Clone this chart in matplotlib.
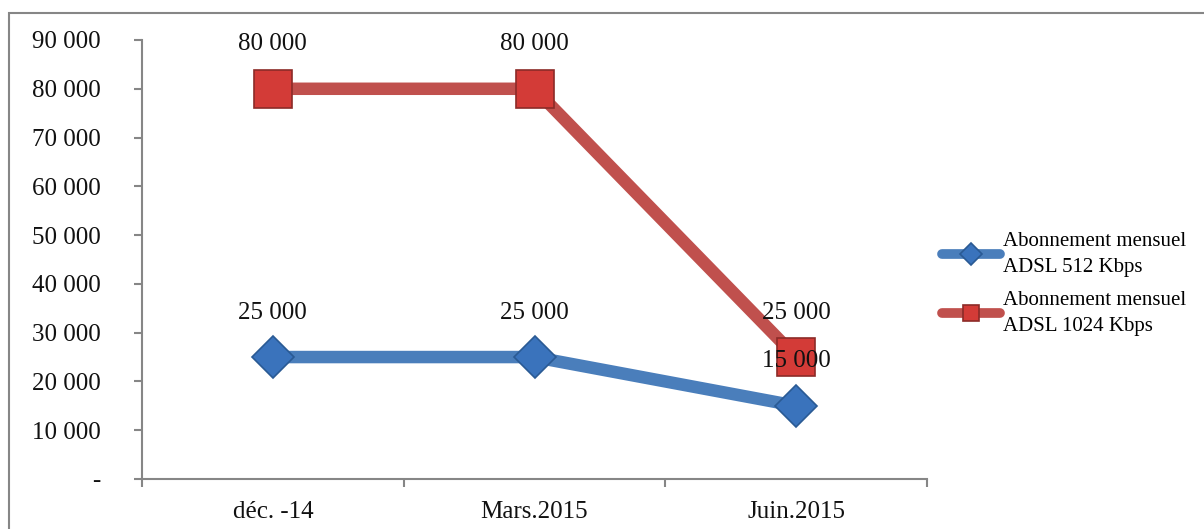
import matplotlib
matplotlib.use('Agg')
import matplotlib.pyplot as plt
from matplotlib.patches import Rectangle
from matplotlib.ticker import FuncFormatter, FixedLocator

plt.rcParams['font.family'] = ['Liberation Serif', 'DejaVu Serif']

categories = ['déc. -14', 'Mars.2015', 'Juin.2015']
adsl_512 = [25000, 25000, 15000]
adsl_1024 = [80000, 80000, 25000]
labels = ['Abonnement mensuel\nADSL 512 Kbps', 'Abonnement mensuel\nADSL 1024 Kbps']

gray = '#868686'

fig = plt.figure(figsize=(12.04, 5.29), dpi=100)
ax = fig.add_axes([142/1204, 50/529, 785/1204, 439/529])

x = range(len(categories))
ax.plot(x, adsl_512, color='#4A7EBB', lw=9, solid_capstyle='round',
        marker='D', markersize=21, markerfacecolor='#3A73BC',
        markeredgecolor='#2A5A94', markeredgewidth=1.2, label=labels[0], zorder=3)
ax.plot(x, adsl_1024, color='#C0504D', lw=9, solid_capstyle='round',
        marker='s', markersize=28, markerfacecolor='#D33B37',
        markeredgecolor='#8C2B28', markeredgewidth=1.2, label=labels[1], zorder=3)

for series in (adsl_512, adsl_1024):
    for xi, v in zip(x, series):
        ax.annotate(f'{v:,}'.replace(',', ' '), (xi, v), xytext=(0, 32),
                    textcoords='offset points', ha='center', va='center',
                    fontsize=18, color='#111111', zorder=5)

ax.set_xlim(-0.5, 2.5)
ax.set_ylim(0, 90000)
ax.set_yticks(range(0, 90001, 10000))
ax.yaxis.set_major_formatter(FuncFormatter(
    lambda v, p: '-' if v == 0 else f'{int(v):,}'.replace(',', ' ')))
ax.set_xticks(list(x))
ax.set_xticklabels(categories)
ax.xaxis.set_minor_locator(FixedLocator([-0.5, 0.5, 1.5, 2.5]))
ax.tick_params(axis='x', which='major', length=0, pad=16, labelsize=18, labelcolor='#111111')
ax.tick_params(axis='x', which='minor', length=6, width=1.5, color=gray, direction='out')
ax.tick_params(axis='y', length=6, width=1.5, color=gray, direction='out', pad=24,
               labelsize=18, labelcolor='#111111')

for s in ('top', 'right'):
    ax.spines[s].set_visible(False)
for s in ('left', 'bottom'):
    ax.spines[s].set_color(gray)
    ax.spines[s].set_linewidth(1.5)

leg = fig.legend(loc='center left', bbox_to_anchor=(942/1204, 0.463), frameon=False,
                 fontsize=15, handlelength=2.8, handletextpad=0.15,
                 labelspacing=0.7, borderaxespad=0, borderpad=0)
for h, ms in zip(leg.legend_handles, (11, 12)):
    h.set_markersize(ms)
    h.set_linewidth(7)
for t in leg.get_texts():
    t.set_linespacing(1.45)

fig.patches.append(Rectangle((9/1204, -0.1), 1.2, (529-13)/529 + 0.1,
                             transform=fig.transFigure, fill=False,
                             edgecolor=gray, lw=1.5))

fig.savefig('out.png', dpi=100)
